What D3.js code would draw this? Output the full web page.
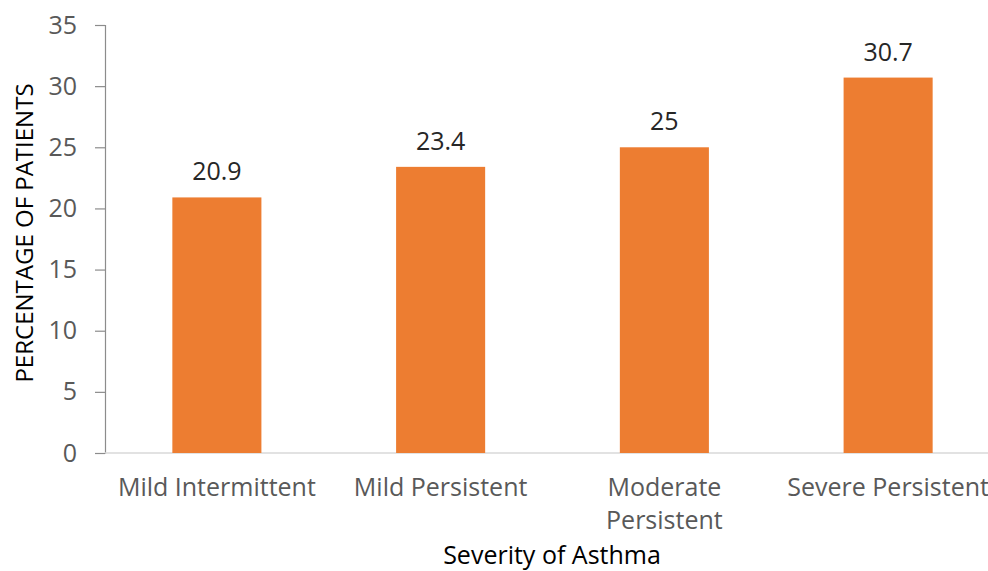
<!DOCTYPE html>
<html>
<head>
<meta charset="utf-8">
<script src="https://cdn.jsdelivr.net/npm/d3@7"></script>
<style>
  body { margin: 0; background: #fff; }
  svg { display: block; }
</style>
</head>
<body>
<div id="chart"></div>
<script>
var categories = [["Mild Intermittent"], ["Mild Persistent"], ["Moderate", "Persistent"], ["Severe Persistent"]];
var values = [20.9, 23.4, 25, 30.7];
var yTicks = [0, 5, 10, 15, 20, 25, 30, 35];

var width = 988, height = 571;
var margin = {left: 105, top: 25, right: -12, bottom: 118};
var plotwidth = width - margin.left - margin.right,
    plotheight = height - margin.top - margin.bottom;

var svg = d3.select("#chart")
            .append("svg")
            .attr("width", width)
            .attr("height", height)
            .style("font-family", "'Open Sans', sans-serif");

var canvas = svg.append("g")
            .attr("transform", "translate(" + margin.left + "," + margin.top + ")");

var x = d3.scaleBand().range([0, plotwidth]).padding(0),
    y = d3.scaleLinear().range([plotheight, 0]);
x.domain(categories.map(function(d, i) { return i; }));
y.domain([0, 35]);
var barw = x.bandwidth() * 0.398;

// y axis
var yAxis = canvas.append("g")
            .call(d3.axisLeft(y).tickValues(yTicks).tickSize(10).tickPadding(18));
yAxis.select(".domain").attr("stroke", "#8c8c8c").attr("stroke-width", 1.2);
yAxis.selectAll(".tick line").attr("stroke", "#8c8c8c").attr("stroke-width", 1.2);
yAxis.selectAll(".tick text")
     .attr("fill", "#595959")
     .attr("font-size", "25px")
     .attr("font-family", "'Open Sans', sans-serif");

// x axis baseline
canvas.append("line")
      .attr("x1", 0).attr("x2", plotwidth)
      .attr("y1", y(0)).attr("y2", y(0))
      .attr("stroke", "#d9d9d9")
      .attr("stroke-width", 1.5);

canvas.selectAll(".bar")
      .data(values)
      .enter()
      .append("rect")
      .attr("class", "bar")
      .attr("x", function(d, i) { return x(i) + x.bandwidth() / 2 - barw / 2; })
      .attr("y", function(d) { return y(d); })
      .attr("width", barw)
      .attr("height", function(d) { return plotheight - y(d); })
      .attr("fill", "#ED7D31");

canvas.selectAll(".val")
      .data(values)
      .enter()
      .append("text")
      .attr("class", "val")
      .attr("x", function(d, i) { return x(i) + x.bandwidth() / 2; })
      .attr("y", function(d) { return y(d) - 17; })
      .attr("text-anchor", "middle")
      .attr("font-size", "25px")
      .attr("fill", "#262626")
      .text(function(d) { return d; });

// category labels
var cat = canvas.selectAll(".cat")
      .data(categories)
      .enter()
      .append("text")
      .attr("class", "cat")
      .attr("text-anchor", "middle")
      .attr("font-size", "25px")
      .attr("fill", "#595959")
      .attr("transform", function(d, i) { return "translate(" + (x(i) + x.bandwidth() / 2) + "," + (plotheight + 43) + ")"; });
cat.selectAll("tspan")
   .data(function(d) { return d; })
   .enter()
   .append("tspan")
   .attr("x", 0)
   .attr("dy", function(d, i) { return i == 0 ? 0 : 33; })
   .text(function(d) { return d; });

// axis titles
svg.append("text")
   .attr("transform", "rotate(-90)")
   .attr("x", -233)
   .attr("y", 33)
   .attr("text-anchor", "middle")
   .attr("font-size", "24px")
   .attr("fill", "#000")
   .text("PERCENTAGE OF PATIENTS");

svg.append("text")
   .attr("x", 552)
   .attr("y", 564)
   .attr("text-anchor", "middle")
   .attr("font-size", "25px")
   .attr("fill", "#000")
   .text("Severity of Asthma");
</script>
</body>
</html>
